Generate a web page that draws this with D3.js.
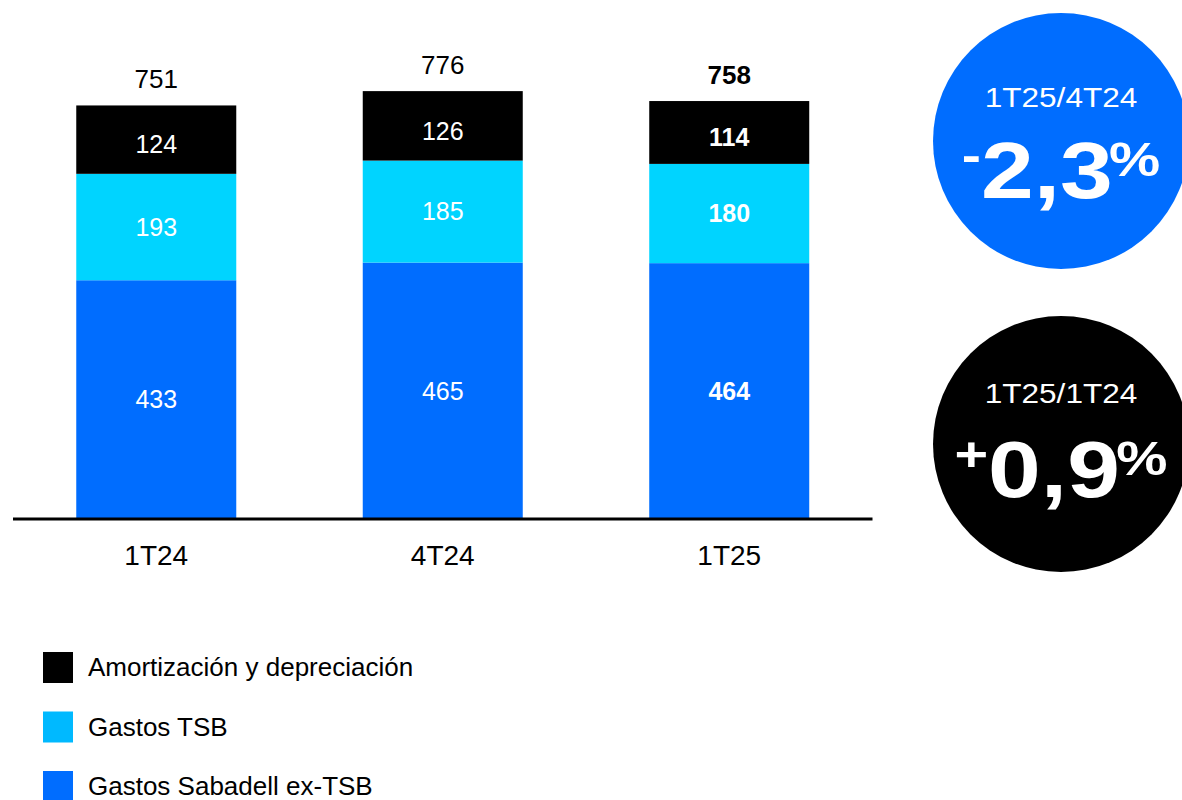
<!DOCTYPE html>
<html>
<head>
<meta charset="utf-8">
<script src="https://cdn.jsdelivr.net/npm/d3@7"></script>
<style>
  html, body { margin: 0; padding: 0; background: #fff; }
  svg { display: block; font-family: "Liberation Sans", Arial, sans-serif; }
</style>
</head>
<body>
<svg id="chart" width="1182" height="800"></svg>
<script>
// Quarterly cost breakdown (millions of euros)
const quarters = ["1T24", "4T24", "1T25"];
const sabadellExTSB = [433, 465, 464];
const gastosTSB = [193, 185, 180];
const amortizacion = [124, 126, 114];
const totals = [751, 776, 758];
const boldQuarter = "1T25";

const seriesNames = ["Gastos Sabadell ex-TSB", "Gastos TSB", "Amortización y depreciación"];
const seriesColors = ["#006dff", "#00d4ff", "#000000"];
const legendColors = ["#006dff", "#00b9ff", "#000000"];

// Variation badges
const badgeTitles = ["1T25/4T24", "1T25/1T24"];
const badgeSigns = ["-", "+"];
const badgeValues = ["2,3", "0,9"];
const badgeColors = ["#006dff", "#000000"];

const svg = d3.select("#chart");

const rows = quarters.map((q, i) => ({
  quarter: q,
  [seriesNames[0]]: sabadellExTSB[i],
  [seriesNames[1]]: gastosTSB[i],
  [seriesNames[2]]: amortizacion[i],
  total: totals[i]
}));

const stacked = d3.stack().keys(seriesNames)(rows);

const x = d3.scaleBand()
  .domain(quarters)
  .range([13, 872.5])
  .paddingInner(0.4415)
  .paddingOuter(0.2208);

const baseY = 519;
const y = d3.scaleLinear().domain([0, 800]).range([baseY, baseY - 800 * 0.5514]);

// Stacked bars
const layers = svg.append("g").selectAll("g")
  .data(stacked)
  .join("g")
  .attr("fill", (d, i) => seriesColors[i]);

layers.selectAll("rect")
  .data(d => d)
  .join("rect")
  .attr("x", d => x(d.data.quarter))
  .attr("width", x.bandwidth())
  .attr("y", d => y(d[1]))
  .attr("height", d => y(d[0]) - y(d[1]));

// Segment value labels
stacked.forEach((layer, li) => {
  svg.append("g").selectAll("text")
    .data(layer)
    .join("text")
    .attr("x", d => x(d.data.quarter) + x.bandwidth() / 2)
    .attr("y", d => (y(d[0]) + y(d[1])) / 2 + (li === 2 ? 5 : 0))
    .attr("dy", "0.35em")
    .attr("text-anchor", "middle")
    .attr("fill", "#ffffff")
    .attr("font-size", 25)
    .attr("font-weight", d => d.data.quarter === boldQuarter ? "bold" : "normal")
    .text(d => d[1] - d[0]);
});

// Totals above bars
svg.append("g").selectAll("text")
  .data(rows)
  .join("text")
  .attr("x", d => x(d.quarter) + x.bandwidth() / 2)
  .attr("y", d => y(d.total) - 26)
  .attr("dy", "0.35em")
  .attr("text-anchor", "middle")
  .attr("fill", "#000")
  .attr("font-size", 26)
  .attr("font-weight", d => d.quarter === boldQuarter ? "bold" : "normal")
  .text(d => d.total);

// Category axis
const xAxis = svg.append("g")
  .attr("transform", `translate(0,${baseY})`)
  .call(d3.axisBottom(x).tickSize(0).tickPadding(26));
xAxis.select(".domain").attr("stroke", "#000").attr("stroke-width", 3)
  .attr("d", `M13,0H872.5`);
xAxis.selectAll("text")
  .attr("font-size", 28)
  .attr("font-family", "Liberation Sans, Arial, sans-serif")
  .attr("fill", "#000");

// Legend
const legendOrder = [2, 1, 0];
const legend = svg.append("g").selectAll("g")
  .data(legendOrder)
  .join("g")
  .attr("transform", (d, i) => `translate(43,${652 + i * 59.5})`);
legend.append("rect")
  .attr("width", 30).attr("height", 31)
  .attr("fill", d => legendColors[d]);
legend.append("text")
  .attr("x", 45).attr("y", 24)
  .attr("font-size", 26)
  .attr("fill", "#000")
  .text(d => seriesNames[d]);

// Variation badges
const badgeCenters = [[1061, 141], [1061, 444]];
const badgeTitleDy = [-34, -41];
const badgeValueDy = [57, 53];
badgeTitles.forEach((t, i) => {
  const [cx, cy] = badgeCenters[i];
  const g = svg.append("g");
  g.append("circle").attr("cx", cx).attr("cy", cy).attr("r", 128).attr("fill", badgeColors[i]);
  g.append("text")
    .attr("transform", `translate(${cx},${cy + badgeTitleDy[i]}) scale(1.17,1)`)
    .attr("text-anchor", "middle")
    .attr("fill", "#fff")
    .attr("font-size", 27)
    .text(t);
  const v = g.append("text")
    .attr("transform", `translate(${cx},${cy + badgeValueDy[i]}) scale(1.2,1)`)
    .attr("text-anchor", "middle")
    .attr("fill", "#fff")
    .attr("font-weight", "bold");
  v.append("tspan").attr("font-size", 48).attr("dy", -26).text(badgeSigns[i]);
  v.append("tspan").attr("font-size", 79).attr("dy", 26).text(badgeValues[i]);
  v.append("tspan").attr("font-size", 48).attr("dy", -22).attr("dx", -3).text("%");
});
</script>
</body>
</html>
